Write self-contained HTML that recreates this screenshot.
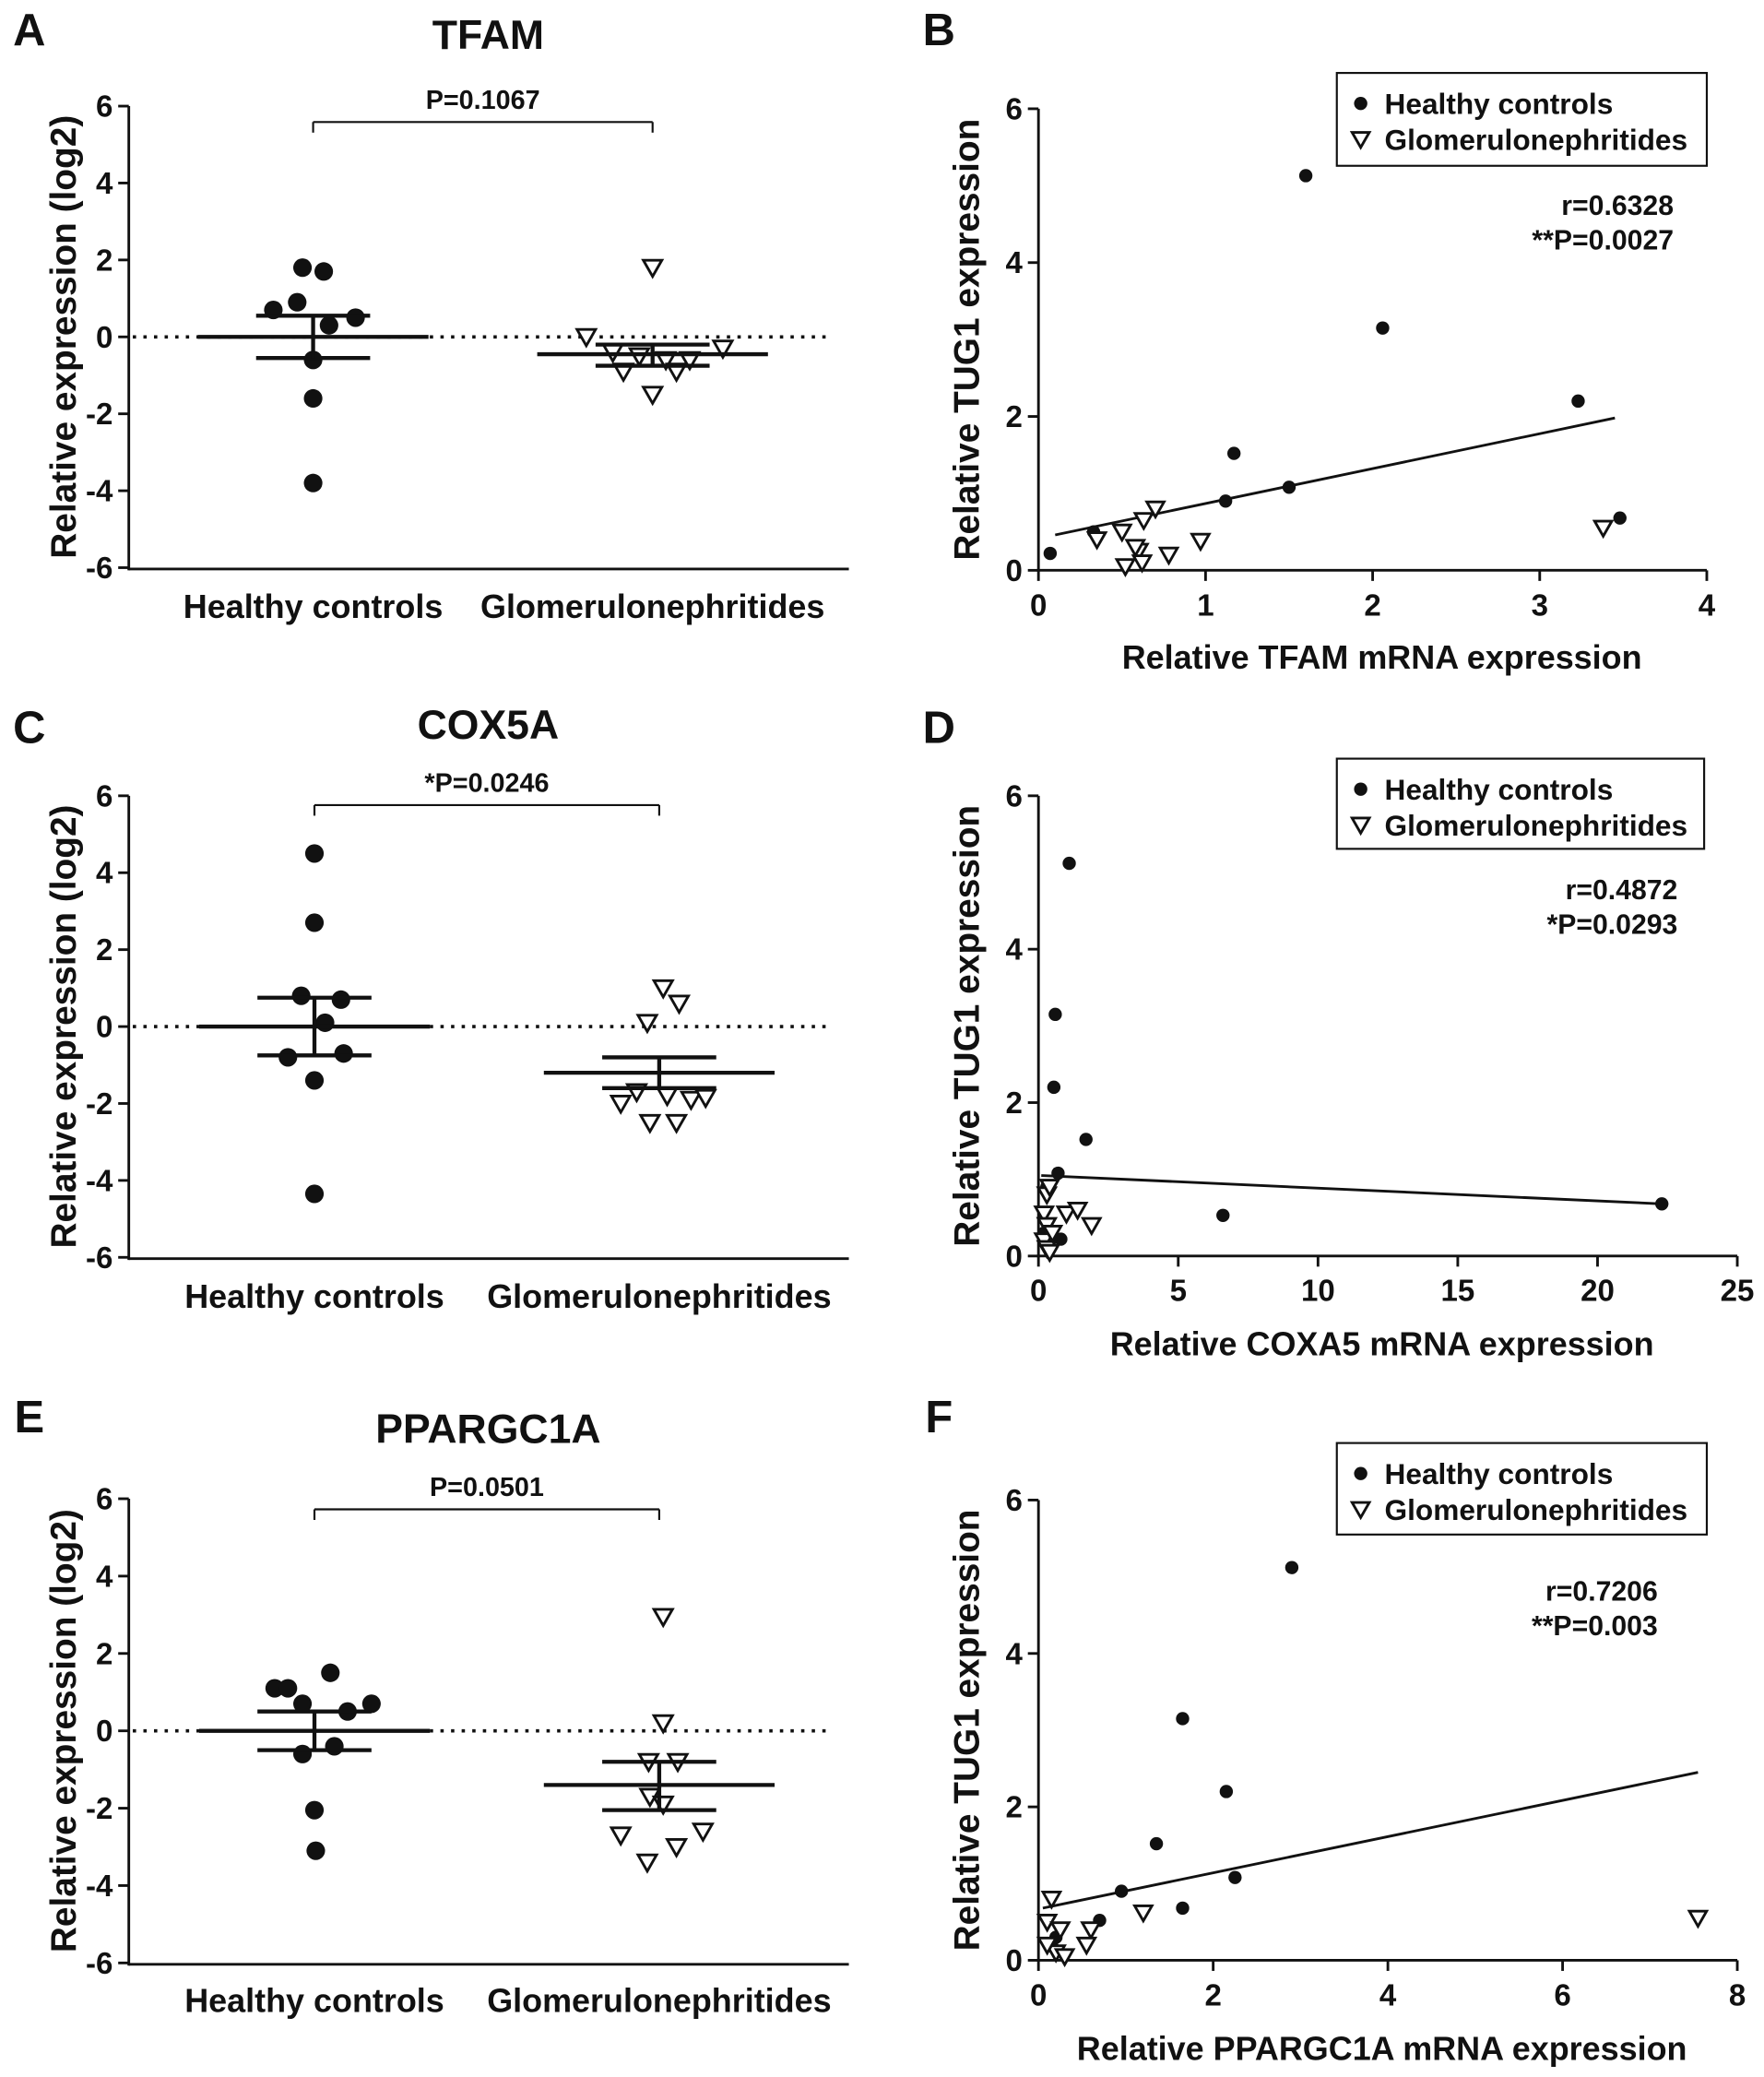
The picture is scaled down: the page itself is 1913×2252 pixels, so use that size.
<!DOCTYPE html>
<html><head><meta charset="utf-8">
<style>
html,body{margin:0;padding:0;background:#fff;}
svg{display:block;}
text{font-family:"Liberation Sans",Arial,sans-serif;font-weight:bold;fill:#111;}
</style></head>
<body>
<svg id="fig" width="1913" height="2252" viewBox="0 0 1330 1566" xmlns="http://www.w3.org/2000/svg"></svg>
<script>
// ---------- Data ----------
const dotTitles = ["TFAM","COX5A","PPARGC1A"];
const dotPvals = ["P=0.1067","*P=0.0246","P=0.0501"];
const dotCategories = ["Healthy controls","Glomerulonephritides"];
const dotYTicks = [-6,-4,-2,0,2,4,6];
const tfamHealthy = [1.8,1.7,0.7,0.9,0.5,0.3,-0.6,-1.6,-3.8];
const tfamHealthyOff = [-8,8,-30,-12,32,12,0,0,0];
const tfamGlom = [1.8,0,-0.4,-0.5,-0.6,-0.9,-0.9,-1.5,-0.3,-0.6];
const tfamGlomOff = [0,-50,-30,-10,10,-22,18,0,53,28];
const tfamStats = [[0,0.55,-0.55],[-0.45,-0.2,-0.75]];
const coxHealthy = [4.5,2.7,0.8,0.7,0.1,-0.8,-0.7,-1.4,-4.35];
const coxHealthyOff = [0,0,-10,20,8,-20,22,0,0];
const coxGlom = [1.0,0.6,0.1,-1.7,-1.8,-1.9,-2.0,-1.85,-2.5,-2.5];
const coxGlomOff = [3,15,-9,-17,6,24,-29,35,-7,13];
const coxStats = [[0,0.75,-0.75],[-1.2,-0.8,-1.6]];
const pgcHealthy = [1.1,1.1,1.5,0.7,0.7,0.5,-0.4,-0.6,-2.05,-3.1];
const pgcHealthyOff = [-30,-20,12,-9,43,25,15,-9,0,1];
const pgcGlom = [2.95,0.2,-0.8,-0.8,-1.7,-1.9,-2.7,-2.6,-3.0,-3.4];
const pgcGlomOff = [3,3,-8,14,-7,3,-29,33,13,-9];
const pgcStats = [[0,0.5,-0.5],[-1.4,-0.8,-2.05]];

const scXLabels = ["Relative TFAM mRNA expression","Relative COXA5 mRNA expression","Relative PPARGC1A mRNA expression"];
const scR = ["r=0.6328","r=0.4872","r=0.7206"];
const scP = ["**P=0.0027","*P=0.0293","**P=0.003"];
const bXTicks = [0,1,2,3,4];
const dXTicks = [0,5,10,15,20,25];
const fXTicks = [0,2,4,6,8];
const scYTicks = [0,2,4,6];
const bHx = [0.07,0.33,1.12,1.17,1.5,1.6,2.06,3.23,3.48];
const bHy = [0.22,0.5,0.9,1.52,1.08,5.13,3.15,2.2,0.68];
const bGx = [0.35,0.5,0.52,0.6,0.62,0.63,0.7,0.78,0.97,3.38,0.58];
const bGy = [0.4,0.5,0.05,0.25,0.1,0.65,0.8,0.2,0.38,0.55,0.3];
const bFit = [[0.1,0.46],[3.45,1.98]];
const dHx = [1.1,0.6,0.55,1.7,0.7,6.6,22.3,0.8,0.3,0.2];
const dHy = [5.12,3.15,2.2,1.52,1.08,0.53,0.68,0.22,0.9,0.3];
const dGx = [0.3,0.4,0.2,0.3,1.0,1.4,1.9,0.2,0.3,0.4,0.5];
const dGy = [0.8,0.9,0.55,0.4,0.55,0.6,0.4,0.2,0.1,0.05,0.3];
const dFit = [[0.1,1.05],[22.3,0.68]];
const fHx = [2.9,1.65,2.15,1.35,2.25,0.95,1.65,0.7,0.15,0.2];
const fHy = [5.12,3.15,2.2,1.52,1.08,0.9,0.68,0.52,0.2,0.3];
const fGx = [0.15,0.1,0.25,0.6,0.55,1.2,0.2,0.3,0.1,7.55];
const fGy = [0.8,0.5,0.4,0.4,0.2,0.62,0.1,0.05,0.2,0.55];
const fFit = [[0.05,0.68],[7.55,2.45]];

// ---------- helpers ----------
const NS="http://www.w3.org/2000/svg";
const svg=document.getElementById('fig');
function el(tag,attrs,parent,txt){const e=document.createElementNS(NS,tag);for(const k in attrs)e.setAttribute(k,attrs[k]);if(txt!==undefined)e.textContent=txt;(parent||svg).appendChild(e);return e;}
function grp(name){const g=el('g',{});


return g;}
function line(p,x1,y1,x2,y2,w,extra){return el('line',Object.assign({x1,y1,x2,y2,stroke:'#111','stroke-width':w||2},extra||{}),p);}
function txt(p,x,y,s,size,anchor,name){const t=el('text',{x,y,'font-size':size,'text-anchor':anchor||'middle'},p,s);


return t;}
function tri(p,cx,cy,r){return el('path',{d:`M${cx-r},${cy-r*0.8} L${cx+r},${cy-r*0.8} L${cx},${cy+r*0.95} Z`,fill:'#fff',stroke:'#111','stroke-width':2},p);}

// ---------- dot plots ----------
const letters=["A","C","E","B","D","F"];
const dotCfg=[
 {top:80,bot:428,h:tfamHealthy,ho:tfamHealthyOff,g:tfamGlom,go:tfamGlomOff,st:tfamStats,titleY:37,letterY:34,brY:92,catY:466,cx:[236,492]},
 {top:600,bot:948,h:coxHealthy,ho:coxHealthyOff,g:coxGlom,go:coxGlomOff,st:coxStats,titleY:557,letterY:560,brY:607,catY:986,cx:[237,497]},
 {top:1130,bot:1480,h:pgcHealthy,ho:pgcHealthyOff,g:pgcGlom,go:pgcGlomOff,st:pgcStats,titleY:1088,letterY:1080,brY:1138,catY:1517,cx:[237,497]}
];
dotCfg.forEach((c,i)=>{
 const g=grp('dot-plot-'+dotTitles[i].toLowerCase());
 const ax=97;
 const y=v=>c.bot-(v+6)/12*(c.bot-c.top);
 txt(g,22,c.letterY,letters[i],34,'middle','panel-label-'+letters[i].toLowerCase());
 txt(g,368,c.titleY,dotTitles[i],31,'middle','chart-title');
 line(g,ax,c.top,ax,c.bot+2,2);
 line(g,ax,c.bot+1,640,c.bot+1,2);
 dotYTicks.forEach(t=>{line(g,ax-8,y(t),ax,y(t),2);txt(g,ax-12,y(t)+8,String(t),23,'end','y-tick-label');});
 const yl=txt(g,0,0,'Relative expression (log2)',27,'middle','y-axis-title');yl.setAttribute('transform',`translate(57,${(c.top+c.bot)/2}) rotate(-90)`);
 dotCategories.forEach((s,k)=>txt(g,c.cx[k],c.catY,s,25,'middle','x-category-label'));
 line(g,100,y(0),628,y(0),2.5,{'stroke-dasharray':'2.5,5.5'});
 // bracket
 line(g,c.cx[0],c.brY,c.cx[1],c.brY,1.5);line(g,c.cx[0],c.brY,c.cx[0],c.brY+8,1.5);line(g,c.cx[1],c.brY,c.cx[1],c.brY+8,1.5);
 txt(g,(c.cx[0]+c.cx[1])/2,c.brY-10,dotPvals[i],20,'middle','p-value-label');
 c.h.forEach((v,k)=>{const d=el('circle',{cx:c.cx[0]+c.ho[k],cy:y(v),r:7,fill:'#111'},g);
 
 });
 c.g.forEach((v,k)=>{const d=tri(g,c.cx[1]+c.go[k],y(v),7);
 
 });
 c.st.forEach((s,k)=>{const cx=c.cx[k];
  line(g,cx-87,y(s[0]),cx+87,y(s[0]),3);
  line(g,cx-43,y(s[1]),cx+43,y(s[1]),3);line(g,cx-43,y(s[2]),cx+43,y(s[2]),3);
  line(g,cx,y(s[1]),cx,y(s[2]),3);});
});

// ---------- scatter plots ----------
const scCfg=[
 {x0:783,x1:1287,xmax:4,xt:bXTicks,y0:430,y6:82,hx:bHx,hy:bHy,gx:bGx,gy:bGy,fit:bFit,leg:[1008,55,1287,125],rx:1262,ry:162,letterY:34,xlY:504},
 {x0:783,x1:1310,xmax:25,xt:dXTicks,y0:947,y6:600,hx:dHx,hy:dHy,gx:dGx,gy:dGy,fit:dFit,leg:[1008,572,1285,640],rx:1265,ry:678,letterY:560,xlY:1022},
 {x0:783,x1:1310,xmax:8,xt:fXTicks,y0:1478,y6:1131,hx:fHx,hy:fHy,gx:fGx,gy:fGy,fit:fFit,leg:[1008,1088,1287,1157],rx:1250,ry:1207,letterY:1080,xlY:1553}
];
scCfg.forEach((c,i)=>{
 const g=grp('scatter-plot-'+letters[i+3].toLowerCase());
 const X=v=>c.x0+v/c.xmax*(c.x1-c.x0), Y=v=>c.y0-v/6*(c.y0-c.y6);
 txt(g,708,c.letterY,letters[i+3],34,'middle','panel-label-'+letters[i+3].toLowerCase());
 line(g,c.x0,c.y6,c.x0,c.y0+1,2);line(g,c.x0-1,c.y0,c.x1,c.y0,2);
 scYTicks.forEach(t=>{line(g,c.x0-8,Y(t),c.x0,Y(t),2);txt(g,c.x0-12,Y(t)+8,String(t),23,'end','y-tick-label');});
 c.xt.forEach(t=>{line(g,X(t),c.y0,X(t),c.y0+8,2);txt(g,X(t),c.y0+34,String(t),23,'middle','x-tick-label');});
 const yl=txt(g,0,0,'Relative TUG1 expression',27,'middle','y-axis-title');yl.setAttribute('transform',`translate(738,${(c.y0+c.y6)/2}) rotate(-90)`);
 txt(g,1042,c.xlY,scXLabels[i],25,'middle','x-axis-title');
 line(g,X(c.fit[0][0]),Y(c.fit[0][1]),X(c.fit[1][0]),Y(c.fit[1][1]),2);
 c.hx.forEach((v,k)=>{const d=el('circle',{cx:X(v),cy:Y(c.hy[k]),r:5,fill:'#111'},g);
 
 });
 c.gx.forEach((v,k)=>{const d=tri(g,X(v),Y(c.gy[k]),6.5);
 
 });
 const L=c.leg;
 const lg=el('rect',{x:L[0],y:L[1],width:L[2]-L[0],height:L[3]-L[1],fill:'#fff',stroke:'#111','stroke-width':1.5},g);
 
 
 el('circle',{cx:L[0]+18,cy:L[1]+23,r:5,fill:'#111'},g);
 txt(g,L[0]+36,L[1]+31,'Healthy controls',22,'start','legend-entry-healthy');
 tri(g,L[0]+18,L[1]+50,6.5);
 txt(g,L[0]+36,L[1]+58,'Glomerulonephritides',22,'start','legend-entry-glom');
 txt(g,c.rx,c.ry,scR[i],21,'end','r-value');
 txt(g,c.rx,c.ry+26,scP[i],21,'end','p-value');
});
</script>
</body></html>
